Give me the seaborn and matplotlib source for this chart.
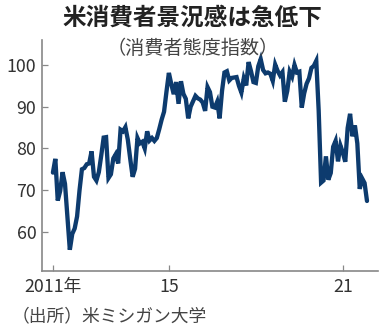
import numpy as np
import pandas as pd
import matplotlib
matplotlib.use("Agg")
import matplotlib.pyplot as plt
import seaborn as sns

# University of Michigan consumer sentiment index, monthly, Jan 2011 - Nov 2021
start_year = 2011
sentiment = [
    74.2, 77.5, 67.5, 69.8, 74.3, 71.5, 63.7, 55.7, 59.5, 60.8, 63.7, 69.9,   # 2011
    75.0, 75.3, 76.2, 76.4, 79.3, 73.2, 72.3, 74.3, 78.3, 82.6, 82.7, 72.9,   # 2012
    73.8, 77.6, 78.6, 76.4, 84.5, 84.1, 85.1, 82.1, 77.5, 73.2, 75.1, 82.5,   # 2013
    81.2, 81.6, 80.0, 84.1, 81.9, 82.5, 81.8, 82.5, 84.6, 86.9, 88.8, 93.6,   # 2014
    98.1, 95.4, 93.0, 95.9, 90.7, 96.1, 93.1, 91.9, 87.2, 90.0, 91.3, 92.6,   # 2015
    92.0, 91.7, 91.0, 89.0, 94.7, 93.5, 90.0, 89.8, 91.2, 87.2, 93.8, 98.2,   # 2016
    98.5, 96.3, 96.9, 97.0, 97.1, 95.0, 93.4, 96.8, 95.1, 100.7, 98.5, 95.9,  # 2017
    95.7, 99.7, 101.4, 98.8, 98.0, 98.2, 97.9, 96.2, 100.1, 98.6, 97.5, 98.3, # 2018
    91.2, 93.8, 98.4, 97.2, 100.0, 98.2, 98.4, 89.8, 93.2, 95.5, 96.8, 99.3,  # 2019
    99.8, 101.0, 89.1, 71.8, 72.3, 78.1, 72.5, 74.1, 80.4, 81.8, 76.9, 80.7,  # 2020
    79.0, 76.8, 84.9, 88.3, 82.9, 85.5, 81.2, 70.3, 72.8, 71.7, 67.4,         # 2021
]
y_ticks = [60, 70, 80, 90, 100]
x_ticks = [2011, 2015, 2021]
x_tick_labels = ["2011年", "15", "21"]

title = "米消費者景況感は急低下"
subtitle = "（消費者態度指数）"
source = "（出所）米ミシガン大学"

df = pd.DataFrame({
    "t": start_year + np.arange(len(sentiment)) / 12.0,
    "index": sentiment,
})

sns.set_theme(style="white")
plt.rcParams["font.family"] = ["Noto Sans CJK JP", "DejaVu Sans"]

fig = plt.figure(figsize=(3.88, 3.33), dpi=100)
ax = fig.add_axes([0.108, 0.186, 0.866, 0.694])

sns.lineplot(data=df, x="t", y="index", ax=ax, color="#0d3b6e",
             linewidth=3.1, solid_joinstyle="miter")

ax.set_xlim(2010.62, 2022.21)
ax.set_ylim(50.6, 106)
ax.set_xlabel("")
ax.set_ylabel("")

ax.set_yticks(y_ticks)
ax.set_xticks(x_ticks)
ax.set_xticklabels(x_tick_labels)

tick_font = ["Liberation Sans Narrow", "Noto Sans CJK JP"]
for lab in ax.get_xticklabels() + ax.get_yticklabels():
    lab.set_family(tick_font)
    lab.set_fontsize(12.8)
    lab.set_color("#333333")

ax.tick_params(axis="both", direction="in", length=4, width=0.9,
               color="#888888", left=True, bottom=True)
ax.tick_params(axis="x", pad=5)
ax.tick_params(axis="y", pad=4)

for side in ["top", "right"]:
    ax.spines[side].set_visible(False)
for side in ["left", "bottom"]:
    ax.spines[side].set_color("#888888")
    ax.spines[side].set_linewidth(1.2)

fig.text(0.497, 0.946, title, ha="center", va="center",
         fontsize=17, fontweight="bold", color="#222222")
fig.text(0.496, 0.855, subtitle, ha="center", va="center",
         fontsize=13.8, color="#444444")
fig.text(0.03, 0.051, source, ha="left", va="center",
         fontsize=12.8, color="#444444")

fig.savefig("out.png", dpi=100, facecolor="white")
